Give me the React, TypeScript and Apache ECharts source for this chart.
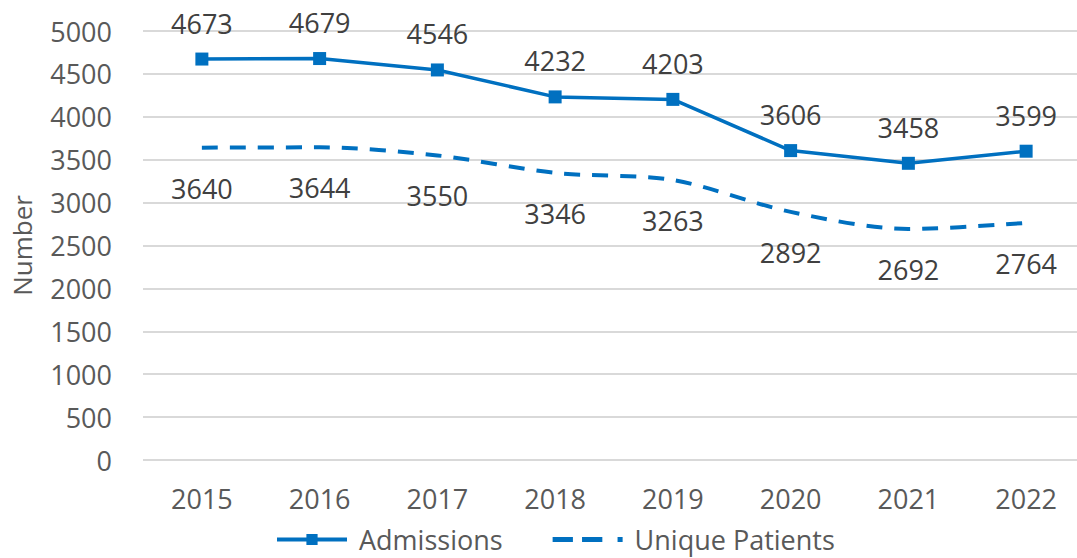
import React, { useEffect, useRef } from "react";
import * as echarts from "echarts";

const years = ["2015", "2016", "2017", "2018", "2019", "2020", "2021", "2022"];
const admissions = [4673, 4679, 4546, 4232, 4203, 3606, 3458, 3599];
const uniquePatients = [3640, 3644, 3550, 3346, 3263, 2892, 2692, 2764];
const yTicks = { min: 0, max: 5000, interval: 500 };

const FONT = "'Open Sans', 'Noto Sans', sans-serif";
const BLUE = "#0070C0";
const DASH_ICON =
  "path://M0 0H20V5H0Z M29 0H49V5H29Z M64 0H69V5H64Z";

export default function App() {
  const ref = useRef<HTMLDivElement>(null);
  useEffect(() => {
    document.body.style.margin = "0";
    const chart = echarts.init(ref.current!, undefined, { renderer: "svg" });
    chart.setOption({
      animation: false,
      textStyle: { fontFamily: FONT },
      grid: {
        left: 143,
        right: -8,
        top: 31,
        bottom: 98,
        containLabel: false,
        outerBoundsMode: "none",
      },
      xAxis: {
        type: "category",
        data: years,
        axisLine: { show: false },
        axisTick: { show: false },
        axisLabel: { color: "#595959", fontSize: 27, margin: 25, fontFamily: FONT },
      },
      yAxis: {
        type: "value",
        min: yTicks.min,
        max: yTicks.max,
        interval: yTicks.interval,
        name: "Number",
        nameLocation: "middle",
        nameGap: 108,
        nameMoveOverlap: false,
        nameRotate: 90,
        nameTextStyle: { color: "#595959", fontSize: 26, fontFamily: FONT },
        axisLabel: {
          color: "#595959",
          fontSize: 27,
          margin: 31,
          fontFamily: FONT,
          formatter: (v: number) => String(v),
        },
        splitLine: { lineStyle: { color: "#D9D9D9", width: 2 } },
      },
      legend: {
        bottom: 0,
        left: 270,
        itemWidth: 70,
        itemHeight: 14,
        itemGap: 50,
        lineStyle: { width: 4 },
        textStyle: {
          color: "#595959",
          fontSize: 27,
          fontFamily: FONT,
          padding: [0, 0, 0, 7],
        },
        data: [
          { name: "Admissions" },
          { name: "Unique Patients", icon: DASH_ICON, itemStyle: { borderWidth: 0, color: BLUE } },
        ],
      },
      series: [
        {
          name: "Admissions",
          type: "line",
          data: admissions,
          symbol: "rect",
          symbolSize: 13,
          color: BLUE,
          lineStyle: { width: 3.5, color: BLUE },
          itemStyle: { color: BLUE },
          label: {
            show: true,
            position: "top",
            distance: 16,
            color: "#404040",
            fontSize: 27,
            fontFamily: FONT,
          },
        },
        {
          name: "Unique Patients",
          type: "line",
          data: uniquePatients,
          symbol: "circle",
          symbolSize: 0,
          showSymbol: true,
          smooth: 0.3,
          color: BLUE,
          lineStyle: { width: 4, color: BLUE, type: [16, 12] },
          itemStyle: { color: BLUE },
          label: {
            show: true,
            position: "bottom",
            distance: 27,
            color: "#404040",
            fontSize: 27,
            fontFamily: FONT,
          },
        },
      ],
    });
    return () => chart.dispose();
  }, []);
  return (
    <div
      ref={ref}
      style={{ position: "absolute", left: 0, top: 0, width: 1077, height: 558 }}
    />
  );
}
